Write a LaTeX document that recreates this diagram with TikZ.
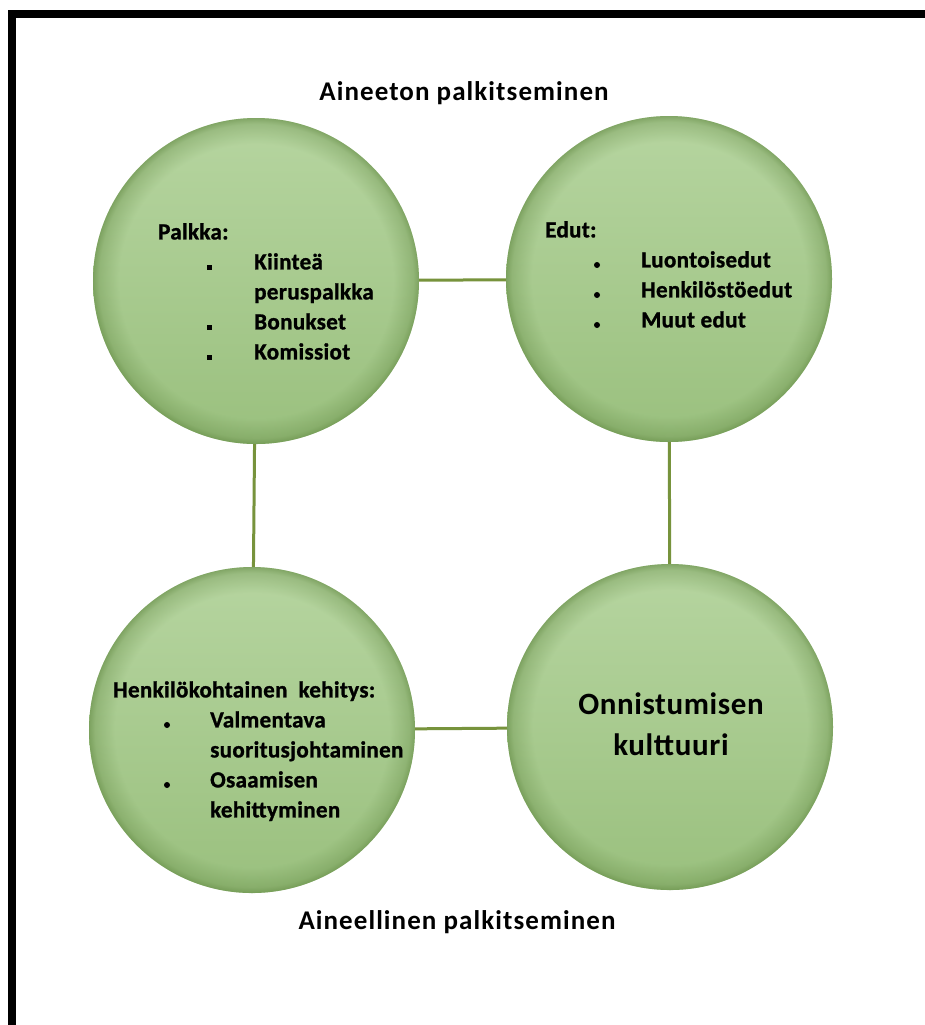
\documentclass[tikz,border=0pt]{standalone}
\usepackage{fontspec}
\setmainfont{Carlito}
\newfontfamily\titlef[LetterSpace=4]{Carlito}
\newfontfamily\ballf[LetterSpace=1.5, BoldFeatures={FakeBold=1.2}]{Carlito}
\newfontfamily\bigf[LetterSpace=2]{Carlito}
\usetikzlibrary{fadings}
\definecolor{connc}{RGB}{119,147,60}
\definecolor{ballTop}{RGB}{182,213,160}
\definecolor{ballBot}{RGB}{154,192,126}
\definecolor{ballEdge}{RGB}{92,132,60}
\pgfdeclareradialshading{edgefadeshade}{\pgfpointorigin}{color(0bp)=(pgftransparent!100); color(21bp)=(pgftransparent!100); color(24bp)=(pgftransparent!70); color(25bp)=(pgftransparent!40); color(50bp)=(pgftransparent!40)}
\pgfdeclarefading{edgefade}{\pgfuseshading{edgefadeshade}}
\tikzset{
  ball/.style={circle, minimum size=326pt, inner sep=0pt, top color=ballTop, bottom color=ballBot,
    postaction={fill=ballEdge, path fading=edgefade}},
  conn/.style={draw=connc, line width=3pt},
  ttl/.style={font=\titlef\fontsize{27}{32}\selectfont\bfseries, text=black},
  item/.style={anchor=mid west, inner sep=0pt, font=\ballf\fontsize{23}{28}\selectfont\bfseries, text=black},
  sqb/.style={rectangle, fill=black, minimum size=5pt, inner sep=0pt},
  rdb/.style={circle, fill=black, minimum size=6pt, inner sep=0pt},
}
\begin{document}
\begin{tikzpicture}[x=1pt, y=-1pt]
\fill[white, use as bounding box] (0,0) rectangle (925,1025);
% frame (runs off the right and bottom edges)
\fill[black] (8,10) rectangle (16,1025);
\fill[black] (8,10) rectangle (925,18);

% circles
\node[ball] (tl) at (256,281) {};
\node[ball] (tr) at (669,279) {};
\node[ball] (bl) at (252,730) {};
\node[ball] (br) at (670,727) {};

% connectors
\draw[conn] (tl) -- (tr);
\draw[conn] (tl) -- (bl);
\draw[conn] (tr) -- (br);
\draw[conn] (bl) -- (br);

% titles
\node[ttl] (t1) at (464,93) {Aineeton palkitseminen};
\node[ttl] (t2) at (457,922) {Aineellinen palkitseminen};

% top-left text
\node[item] (pk) at (158,237) {Palkka:};
\node[sqb] (pb1) at (209,267) {};
\node[sqb] (pb2) at (209,327) {};
\node[sqb] (pb3) at (209,357) {};
\node[item] (p1) at (254,267) {Kiinteä};
\node[item] (p2) at (254,297) {peruspalkka};
\node[item] (p3) at (254,327) {Bonukset};
\node[item] (p4) at (254,357) {Komissiot};

% top-right text
\node[item] (ed) at (545,235) {Edut:};
\node[rdb] (eb1) at (597,265) {};
\node[rdb] (eb2) at (597,295) {};
\node[rdb] (eb3) at (597,325) {};
\node[item] (e1) at (641,265) {Luontoisedut};
\node[item] (e2) at (641,295) {Henkilöstöedut};
\node[item] (e3) at (641,325) {Muut edut};

% bottom-left text
\node[item] (hk) at (113,695) {Henkilökohtainen\ \ kehitys:};
\node[rdb] (hb1) at (167,725) {};
\node[rdb] (hb2) at (167,785) {};
\node[item] (h1) at (210,725) {Valmentava};
\node[item] (h2) at (210,755) {suoritusjohtaminen};
\node[item] (h3) at (210,785) {Osaamisen};
\node[item] (h4) at (210,815) {kehittyminen};

% bottom-right text
\node[align=center, text=black, font=\bigf\fontsize{31}{41}\selectfont\bfseries] (ok) at (671,724) {Onnistumisen\\kulttuuri};
\end{tikzpicture}
\end{document}
